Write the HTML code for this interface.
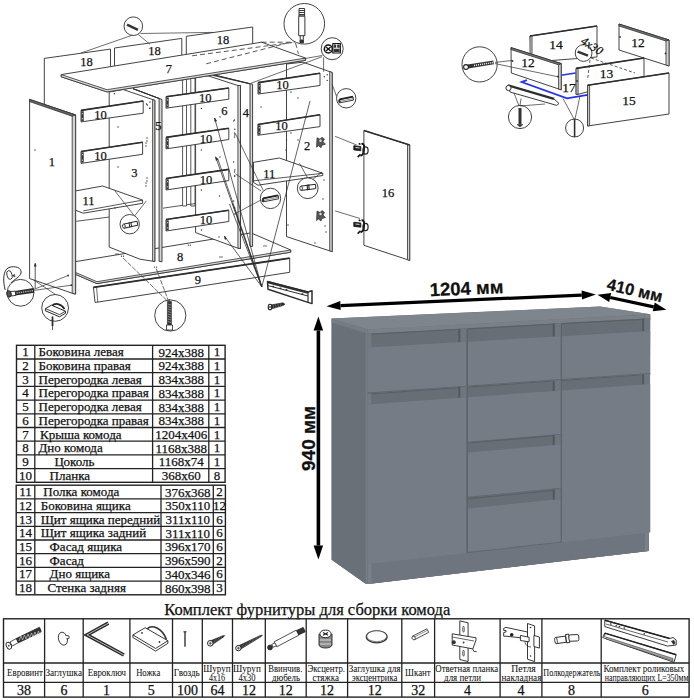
<!DOCTYPE html>
<html><head><meta charset="utf-8"><style>
html,body{margin:0;padding:0;background:#fff;}
svg{display:block;}
text{fill:#111;stroke:#111;stroke-width:0.25px;}
</style></head><body>
<svg width="694" height="700" viewBox="0 0 694 700">
<rect width="694" height="700" fill="#fff"/>
<g id="drawing" fill="none" stroke="#2e2e2e" stroke-width="1" stroke-linejoin="round">
<polygon points="44.3,58.4 110.5,49.1 110.5,80.0 44.3,104.0" fill="#fff" stroke-width="0.9" stroke="none"/>
<polyline points="44.3,104.0 44.3,58.4 110.5,49.1 110.5,80.0" fill="none" stroke-width="0.9" />
<polygon points="114.5,48.0 181.8,38.4 181.8,70.0 114.5,75.0" fill="#fff" stroke-width="0.9" stroke="none"/>
<polyline points="114.5,75.0 114.5,48.0 181.8,38.4 181.8,70.0" fill="none" stroke-width="0.9" />
<polygon points="186.3,36.3 252.7,27.0 252.7,60.0 186.3,70.0" fill="#fff" stroke-width="0.9" stroke="none"/>
<polyline points="186.3,70.0 186.3,36.3 252.7,27.0 252.7,60.0" fill="none" stroke-width="0.9" />
<polygon points="182.6,70.0 186.5,70.0 186.5,206.0 182.6,206.0" fill="#fff" stroke-width="0.8" />
<polygon points="190.8,70.0 195.0,70.0 195.0,206.0 190.8,206.0" fill="#fff" stroke-width="0.8" />
<line x1="163.0" y1="208.2" x2="182.6" y2="205.3" stroke-width="0.8" />
<line x1="186.5" y1="204.8" x2="195.6" y2="203.5" stroke-width="0.8" />
<polygon points="57.2,264.6 251.0,232.9 290.7,250.0 290.7,252.2 96.9,283.6 75.6,274.4" fill="#fff" stroke-width="0.9" />
<polygon points="75.6,272.5 96.9,281.7 290.7,250.0 290.7,252.2 96.9,283.6 75.6,274.4" fill="#dcdcdc" stroke-width="0.8"/>
<polygon points="286.5,64.0 303.0,62.2 332.2,72.5 332.2,251.7 286.5,236.6" fill="#fff" stroke-width="0.9" />
<polygon points="329.7,71.6 332.2,72.5 332.2,251.7 329.7,250.9" fill="#d4d4d4" stroke-width="0.8"/>
<line x1="76.2" y1="221.3" x2="109.4" y2="217.0" stroke-width="0.8" />
<polygon points="109.2,92.0 123.0,89.5 154.8,100.3 154.8,261.5 140.0,259.2 109.2,247.1" fill="#fff" stroke-width="0.9" />
<polygon points="152.6,99.6 154.8,100.3 154.8,261.5 152.6,260.8" fill="#d4d4d4" stroke-width="0.8"/>
<polygon points="133.1,88.7 162.0,99.5 162.0,261.8 159.1,261.3 159.1,98.5" fill="#d4d4d4" stroke-width="0.9" />
<line x1="159.1" y1="98.5" x2="133.1" y2="88.7" stroke-width="0.8" />
<polygon points="195.6,76.0 207.3,75.6 237.9,85.5 240.5,85.5 240.5,248.5 237.9,248.2 195.6,232.6" fill="#fff" stroke-width="0.9" />
<polygon points="237.9,85.5 240.5,85.5 240.5,248.5 237.9,248.2" fill="#d4d4d4" stroke-width="0.8"/>
<polygon points="212.7,74.6 252.6,84.3 252.6,246.5 250.0,246.2 250.0,83.8" fill="#d4d4d4" stroke-width="0.9" />
<line x1="250.0" y1="83.8" x2="213.0" y2="75.5" stroke-width="0.8" />
<polygon points="81.0,110.4 143.2,101.0 143.2,113.2 81.0,121.9" fill="#fff" stroke-width="0.9" />
<line x1="81.0" y1="110.4" x2="143.2" y2="101.0" stroke-width="1.6" />
<rect x="81.3" y="111.2" width="2.4" height="9.9" fill="#333" stroke="none"/>
<circle cx="82.5" cy="113.6" r="0.6" fill="#ddd" stroke="none"/>
<circle cx="82.5" cy="118.7" r="0.6" fill="#ddd" stroke="none"/>
<polygon points="81.0,151.5 142.6,142.2 142.6,154.3 81.0,163.4" fill="#fff" stroke-width="0.9" />
<line x1="81.0" y1="151.5" x2="142.6" y2="142.2" stroke-width="1.6" />
<rect x="81.3" y="152.3" width="2.4" height="10.3" fill="#333" stroke="none"/>
<circle cx="82.5" cy="154.7" r="0.6" fill="#ddd" stroke="none"/>
<circle cx="82.5" cy="160.2" r="0.6" fill="#ddd" stroke="none"/>
<polygon points="166.0,96.7 228.8,88.0 228.8,99.2 166.0,108.2" fill="#fff" stroke-width="0.9" />
<line x1="166.0" y1="96.7" x2="228.8" y2="88.0" stroke-width="1.6" />
<rect x="166.3" y="97.5" width="2.4" height="9.9" fill="#333" stroke="none"/>
<circle cx="167.5" cy="99.9" r="0.6" fill="#ddd" stroke="none"/>
<circle cx="167.5" cy="105.0" r="0.6" fill="#ddd" stroke="none"/>
<polygon points="166.0,137.4 228.8,128.3 228.8,139.5 166.0,148.9" fill="#fff" stroke-width="0.9" />
<line x1="166.0" y1="137.4" x2="228.8" y2="128.3" stroke-width="1.6" />
<rect x="166.3" y="138.2" width="2.4" height="9.9" fill="#333" stroke="none"/>
<circle cx="167.5" cy="140.6" r="0.6" fill="#ddd" stroke="none"/>
<circle cx="167.5" cy="145.7" r="0.6" fill="#ddd" stroke="none"/>
<polygon points="166.0,178.5 228.8,169.4 228.8,180.6 166.0,190.0" fill="#fff" stroke-width="0.9" />
<line x1="166.0" y1="178.5" x2="228.8" y2="169.4" stroke-width="1.6" />
<rect x="166.3" y="179.3" width="2.4" height="9.9" fill="#333" stroke="none"/>
<circle cx="167.5" cy="181.7" r="0.6" fill="#ddd" stroke="none"/>
<circle cx="167.5" cy="186.8" r="0.6" fill="#ddd" stroke="none"/>
<polygon points="166.0,219.5 228.8,210.3 228.8,221.5 166.0,231.0" fill="#fff" stroke-width="0.9" />
<line x1="166.0" y1="219.5" x2="228.8" y2="210.3" stroke-width="1.6" />
<rect x="166.3" y="220.3" width="2.4" height="9.9" fill="#333" stroke="none"/>
<circle cx="167.5" cy="222.7" r="0.6" fill="#ddd" stroke="none"/>
<circle cx="167.5" cy="227.8" r="0.6" fill="#ddd" stroke="none"/>
<polygon points="258.0,82.6 320.0,73.2 320.0,85.5 258.0,94.1" fill="#fff" stroke-width="0.9" />
<line x1="258.0" y1="82.6" x2="320.0" y2="73.2" stroke-width="1.6" />
<rect x="258.3" y="83.4" width="2.4" height="9.9" fill="#333" stroke="none"/>
<circle cx="259.5" cy="85.8" r="0.6" fill="#ddd" stroke="none"/>
<circle cx="259.5" cy="90.9" r="0.6" fill="#ddd" stroke="none"/>
<polygon points="257.8,124.5 320.0,114.7 320.0,126.6 257.8,135.3" fill="#fff" stroke-width="0.9" />
<line x1="257.8" y1="124.5" x2="320.0" y2="114.7" stroke-width="1.6" />
<rect x="258.1" y="125.3" width="2.4" height="9.2" fill="#333" stroke="none"/>
<circle cx="259.3" cy="127.7" r="0.6" fill="#ddd" stroke="none"/>
<circle cx="259.3" cy="132.1" r="0.6" fill="#ddd" stroke="none"/>
<polygon points="43.3,196.8 102.7,186.0 142.6,200.1 142.6,203.3 83.2,213.2 75.0,210.0" fill="#fff" stroke-width="0.9" />
<line x1="142.6" y1="200.1" x2="83.2" y2="210.9" stroke-width="0.8" />
<polygon points="253.5,162.3 279.4,158.0 322.8,173.3 322.8,175.5 258.0,185.2 253.5,182.5" fill="#fff" stroke-width="0.9" />
<line x1="322.8" y1="173.3" x2="253.5" y2="180.8" stroke-width="0.8" />
<polygon points="61.2,74.6 261.6,42.2 305.6,58.1 305.6,60.3 107.0,91.9 61.2,76.8" fill="#fff" stroke-width="0.9" />
<polygon points="61.2,74.6 107.0,89.7 305.6,58.1 305.6,60.3 107.0,91.9 61.2,76.8" fill="#dcdcdc" stroke-width="0.8"/>
<g stroke-dasharray="5,3" stroke-width="0.8">
<line x1="192.1" y1="55.8" x2="294.8" y2="42.2" stroke-width="0.8" />
<line x1="206.2" y1="63.8" x2="287.6" y2="43.0" stroke-width="0.8" />
<line x1="261.6" y1="42.2" x2="294.8" y2="42.2" stroke-width="0.8" />
<line x1="295.5" y1="43.0" x2="298.4" y2="53.8" stroke-width="0.8" />
</g>
<polygon points="29.6,99.4 74.6,114.6 75.6,115.0 75.6,294.0 74.6,294.0 29.6,278.6" fill="#fff" stroke-width="0.9" />
<polygon points="72.2,113.8 75.6,115.0 75.6,294.0 72.2,293.3" fill="#d4d4d4" stroke-width="0.8"/>
<polygon points="29.6,99.4 74.6,114.6 75.6,115.0 72.2,116.2 29.6,101.6" fill="#666" stroke-width="0.8"/>
<polygon points="93.4,287.4 289.7,258.2 289.7,272.3 95.1,302.5" fill="#fff" stroke-width="0.9" />
<line x1="93.4" y1="287.4" x2="289.7" y2="258.2" stroke-width="1.8" />
<line x1="96.6" y1="287.6" x2="97.8" y2="302.1" stroke-width="0.7" />
<polygon points="363.9,130.5 409.7,145.0 409.7,260.4 363.9,245.3" fill="#fff" stroke-width="0.9" />
<polygon points="407.5,144.3 409.7,145.0 409.7,260.4 407.5,259.7" fill="#d4d4d4" stroke-width="0.8"/>
<line x1="363.9" y1="130.5" x2="409.7" y2="145.0" stroke-width="1.5" />
<path d="M317,137.7 l3,1.5 l2,-2 l2.5,2 l-1.5,2.5 l2.5,2.5 l-3.5,1 l-1,2.5 l-2.5,-2 l-2,1.5 z" fill="#555" stroke="#222" stroke-width="0.6"/>
<circle cx="320.5" cy="140.7" r="1.2" fill="#ddd" stroke="none"/>
<path d="M317,211.0 l3,1.5 l2,-2 l2.5,2 l-1.5,2.5 l2.5,2.5 l-3.5,1 l-1,2.5 l-2.5,-2 l-2,1.5 z" fill="#555" stroke="#222" stroke-width="0.6"/>
<circle cx="320.5" cy="214.0" r="1.2" fill="#ddd" stroke="none"/>
<path d="M353.8,145.70000000000002 l7,0.8 l0,4.2 l-7,-0.8 z" fill="#222" stroke="#111" stroke-width="0.8"/>
<path d="M355.5,147.5 l4,0.4" stroke="#eee" stroke-width="0.9"/>
<path d="M361.5,143.8 C364,143.3 364.5,146.3 364,149.3 C364,153.3 362.5,155.3 360.5,155.8" fill="none" stroke="#111" stroke-width="1.8"/>
<ellipse cx="365.5" cy="150.5" rx="2.6" ry="3.6" fill="none" stroke="#222" stroke-width="1.2"/>
<path d="M360.5,154.3 l-2.8,2.8" stroke="#111" stroke-width="1.6"/>
<path d="M360.5,144.3 l-1.8,-0.8" stroke="#111" stroke-width="1.4"/>
<path d="M353.8,222.20000000000002 l7,0.8 l0,4.2 l-7,-0.8 z" fill="#222" stroke="#111" stroke-width="0.8"/>
<path d="M355.5,224.0 l4,0.4" stroke="#eee" stroke-width="0.9"/>
<path d="M361.5,220.3 C364,219.8 364.5,222.8 364,225.8 C364,229.8 362.5,231.8 360.5,232.3" fill="none" stroke="#111" stroke-width="1.8"/>
<ellipse cx="365.5" cy="227.0" rx="2.6" ry="3.6" fill="none" stroke="#222" stroke-width="1.2"/>
<path d="M360.5,230.8 l-2.8,2.8" stroke="#111" stroke-width="1.6"/>
<path d="M360.5,220.8 l-1.8,-0.8" stroke="#111" stroke-width="1.4"/>
<line x1="335.1" y1="136.3" x2="356.7" y2="145.0" stroke-width="0.7" />
<line x1="335.1" y1="210.9" x2="360.0" y2="218.5" stroke-width="0.7" />
<polygon points="267.5,281.5 308.0,292.0 312.0,290.8 312.0,303.6 308.0,302.4 268.0,289.3" fill="#fff" stroke-width="1.5" />
<line x1="267.5" y1="282.2" x2="308.0" y2="292.7" stroke-width="2.4" />
<line x1="268.0" y1="285.6" x2="308.0" y2="296.0" stroke-width="1.0" />
<line x1="308.0" y1="292.0" x2="308.0" y2="302.4" stroke-width="1.2" />
<rect x="272.3" y="285.8" width="1.8" height="1.3" fill="#222" stroke="none"/>
<rect x="279.5" y="287.6" width="1.8" height="1.3" fill="#222" stroke="none"/>
<rect x="285.5" y="289.2" width="1.8" height="1.3" fill="#222" stroke="none"/>
<rect x="301.5" y="293.4" width="1.8" height="1.3" fill="#222" stroke="none"/>
<polygon points="270.5,305 283,302.8 285,304.2 283,305.6 271,309" fill="#2a2a2a" stroke="#2a2a2a" stroke-width="0.6"/>
<path d="M273,305 l0.6,3 M275.5,304.5 l0.6,3 M278,304 l0.6,2.8 M280.5,303.6 l0.5,2.4" stroke="#999" stroke-width="0.5"/>
<ellipse cx="270" cy="307" rx="1.8" ry="2.8" fill="#fff" stroke="#222" stroke-width="1.1"/>
<path d="M269,306 l2,2 M271,306 l-2,2" stroke="#222" stroke-width="0.6"/>
<line x1="235.1" y1="133.1" x2="263.2" y2="190.4" stroke-width="0.7" />
<line x1="214.6" y1="118.0" x2="261.8" y2="286.9" stroke-width="0.75" />
<line x1="215.6" y1="156.9" x2="261.8" y2="286.9" stroke-width="0.75" />
<line x1="217.5" y1="158.0" x2="261.8" y2="286.9" stroke-width="0.75" />
<line x1="224.4" y1="236.0" x2="261.8" y2="286.9" stroke-width="0.75" />
<line x1="310.0" y1="101.0" x2="261.8" y2="286.9" stroke-width="0.75" />
<line x1="229.5" y1="204.0" x2="261.8" y2="286.9" stroke-width="0.75" />
<line x1="232.5" y1="203.5" x2="261.8" y2="286.9" stroke-width="0.75" />
<path d="M224.4,236 l0.6,3.4 l1.6,-0.9 z" fill="#222" stroke-width="0.6"/>
<path d="M214.6,118 l0.3,3.5 l1.8,-0.6 z" fill="#222" stroke-width="0.6"/>
<path d="M215.6,156.9 l0.5,3.5 l1.7,-0.8 z" fill="#222" stroke-width="0.6"/>
<line x1="123.2" y1="258.2" x2="167.5" y2="301.0" stroke-width="0.7" stroke-dasharray="5,1.2"/>
<line x1="156.2" y1="268.5" x2="168.5" y2="301.0" stroke-width="0.7" stroke-dasharray="5,1.2"/>
<circle cx="121.5" cy="256.2" r="0.65" fill="#333" stroke="none"/>
<circle cx="123.5" cy="256.2" r="0.65" fill="#333" stroke="none"/>
<circle cx="154.6" cy="267.1" r="0.65" fill="#333" stroke="none"/>
<circle cx="156.6" cy="267.1" r="0.65" fill="#333" stroke="none"/>
<circle cx="188.3" cy="245.2" r="0.65" fill="#333" stroke="none"/>
<circle cx="190.3" cy="245.2" r="0.65" fill="#333" stroke="none"/>
<circle cx="220" cy="257" r="0.65" fill="#333" stroke="none"/>
<circle cx="222" cy="257" r="0.65" fill="#333" stroke="none"/>
<circle cx="264" cy="246" r="0.65" fill="#333" stroke="none"/>
<circle cx="266" cy="246" r="0.65" fill="#333" stroke="none"/>
<circle cx="116" cy="254" r="0.65" fill="#333" stroke="none"/>
<circle cx="118" cy="254" r="0.65" fill="#333" stroke="none"/>
<line x1="68.1" y1="275.5" x2="32.4" y2="290.0" stroke-width="0.7" />
<line x1="71.3" y1="285.2" x2="32.4" y2="290.6" stroke-width="0.7" />
<line x1="33.5" y1="279.8" x2="62.7" y2="299.3" stroke-width="0.7" />
<line x1="35.2" y1="263.6" x2="35.2" y2="288.5" stroke-width="0.8" />
<path d="M35.2,263.2 l-1,3 l2,0 z" fill="#222" stroke-width="0.5"/>
<circle cx="68.1" cy="275.5" r="0.9" fill="#333" stroke="none"/>
<circle cx="71.3" cy="285.2" r="0.9" fill="#333" stroke="none"/>
<line x1="134.0" y1="34.6" x2="81.0" y2="53.0" stroke-width="0.7" />
<line x1="138.3" y1="34.6" x2="150.0" y2="44.3" stroke-width="0.7" />
<line x1="140.5" y1="33.5" x2="212.7" y2="32.4" stroke-width="0.7" />
<line x1="322.1" y1="56.7" x2="250.8" y2="83.3" stroke-width="0.7" />
<line x1="322.4" y1="55.5" x2="303.4" y2="58.8" stroke-width="0.7" />
<line x1="323.6" y1="57.4" x2="323.6" y2="71.8" stroke-width="0.7" />
<line x1="336.5" y1="96.2" x2="332.1" y2="84.3" stroke-width="0.7" />
<line x1="114.7" y1="190.6" x2="134.5" y2="216.0" stroke-width="0.7" />
<line x1="146.4" y1="200.9" x2="134.5" y2="216.0" stroke-width="0.7" />
<line x1="261.3" y1="191.1" x2="235.3" y2="173.8" stroke-width="0.7" />
<line x1="261.3" y1="199.8" x2="235.3" y2="213.6" stroke-width="0.7" />
<line x1="299.5" y1="163.4" x2="307.7" y2="178.0" stroke-width="0.7" />
<line x1="322.0" y1="172.0" x2="312.0" y2="180.0" stroke-width="0.7" />
<circle cx="114.4" cy="93.8" r="0.7" fill="#333" stroke="none"/>
<circle cx="146.5" cy="104" r="0.7" fill="#333" stroke="none"/>
<circle cx="150" cy="102" r="0.7" fill="#333" stroke="none"/>
<circle cx="150" cy="108" r="0.7" fill="#333" stroke="none"/>
<circle cx="147" cy="138" r="0.7" fill="#333" stroke="none"/>
<circle cx="147" cy="141" r="0.7" fill="#333" stroke="none"/>
<circle cx="147" cy="178" r="0.7" fill="#333" stroke="none"/>
<circle cx="147" cy="181" r="0.7" fill="#333" stroke="none"/>
<circle cx="118" cy="127" r="0.7" fill="#333" stroke="none"/>
<circle cx="118" cy="167" r="0.7" fill="#333" stroke="none"/>
<circle cx="234.5" cy="120" r="0.7" fill="#333" stroke="none"/>
<circle cx="234.5" cy="133" r="0.7" fill="#333" stroke="none"/>
<circle cx="234.5" cy="137" r="0.7" fill="#333" stroke="none"/>
<circle cx="234.5" cy="172" r="0.7" fill="#333" stroke="none"/>
<circle cx="234.5" cy="176" r="0.7" fill="#333" stroke="none"/>
<circle cx="220" cy="117" r="0.7" fill="#333" stroke="none"/>
<circle cx="220" cy="157" r="0.7" fill="#333" stroke="none"/>
<circle cx="219.5" cy="196" r="0.7" fill="#333" stroke="none"/>
<circle cx="219" cy="237" r="0.7" fill="#333" stroke="none"/>
<circle cx="324.3" cy="76.8" r="0.7" fill="#333" stroke="none"/>
<circle cx="327.2" cy="74.7" r="0.7" fill="#333" stroke="none"/>
<circle cx="327.2" cy="80.4" r="0.7" fill="#333" stroke="none"/>
<circle cx="298" cy="98" r="0.7" fill="#333" stroke="none"/>
<circle cx="298" cy="140" r="0.7" fill="#333" stroke="none"/>
<circle cx="324" cy="180" r="0.7" fill="#333" stroke="none"/>
<circle cx="323" cy="199" r="0.7" fill="#333" stroke="none"/>
<circle cx="35" cy="150" r="0.7" fill="#333" stroke="none"/>
<circle cx="261" cy="107" r="0.7" fill="#333" stroke="none"/>
<circle cx="286" cy="150" r="0.7" fill="#333" stroke="none"/>
<circle cx="147.3" cy="105" r="0.7" fill="#333" stroke="none"/>
<circle cx="149.6" cy="108.4" r="0.7" fill="#333" stroke="none"/>
<circle cx="201.4" cy="108.4" r="0.7" fill="#333" stroke="none"/>
<circle cx="201.4" cy="149.9" r="0.7" fill="#333" stroke="none"/>
<circle cx="201.4" cy="190" r="0.7" fill="#333" stroke="none"/>
<circle cx="201.4" cy="230" r="0.7" fill="#333" stroke="none"/>
<circle cx="233.7" cy="121" r="0.7" fill="#333" stroke="none"/>
<circle cx="234.8" cy="129.2" r="0.7" fill="#333" stroke="none"/>
<circle cx="234.8" cy="135" r="0.7" fill="#333" stroke="none"/>
<circle cx="233.7" cy="162" r="0.7" fill="#333" stroke="none"/>
<circle cx="234.8" cy="170" r="0.7" fill="#333" stroke="none"/>
<circle cx="234.8" cy="176" r="0.7" fill="#333" stroke="none"/>
<circle cx="233.7" cy="201" r="0.7" fill="#333" stroke="none"/>
<circle cx="234.8" cy="208" r="0.7" fill="#333" stroke="none"/>
<circle cx="234.8" cy="214" r="0.7" fill="#333" stroke="none"/>
<circle cx="115" cy="208" r="0.7" fill="#333" stroke="none"/>
<circle cx="146" cy="143" r="0.7" fill="#333" stroke="none"/>
<circle cx="146" cy="146" r="0.7" fill="#333" stroke="none"/>
<circle cx="146" cy="183" r="0.7" fill="#333" stroke="none"/>
<circle cx="146" cy="186" r="0.7" fill="#333" stroke="none"/>
<circle cx="286.5" cy="140" r="0.7" fill="#333" stroke="none"/>
<circle cx="325" cy="226" r="0.7" fill="#333" stroke="none"/>
<circle cx="326" cy="232" r="0.7" fill="#333" stroke="none"/>
<circle cx="307" cy="198" r="0.7" fill="#333" stroke="none"/>
<circle cx="291" cy="92" r="0.7" fill="#333" stroke="none"/>
<circle cx="291" cy="133" r="0.7" fill="#333" stroke="none"/>
<circle cx="315" cy="243" r="0.7" fill="#333" stroke="none"/>
<circle cx="288" cy="225" r="0.7" fill="#333" stroke="none"/>
<circle cx="133.3" cy="26.2" r="9.3" fill="#fff" stroke-width="0.9"/>
<path d="M127,24.6 L138,29.8" stroke-width="2.4" stroke="#333"/>
<circle cx="304.3" cy="23.8" r="20.3" fill="#fff" stroke-width="0.9"/>
<path d="M299,8.5 h5.6 v7.5 h-5.6 z" fill="#fff" stroke="#222" stroke-width="0.9"/>
<path d="M299,10.5 h5.6 M299,12.5 h5.6 M299,14.5 h5.6" stroke="#222" stroke-width="0.9"/>
<rect x="298.7" y="16.2" width="6.2" height="19.5" fill="#fff" stroke="#222" stroke-width="0.9"/>
<path d="M300.2,35.7 v4 M303.3,35.7 v4" stroke="#222" stroke-width="0.9"/>
<rect x="299.5" y="39.6" width="4.5" height="3.6" rx="1" fill="#333" stroke="none"/>
<circle cx="332.2" cy="48.7" r="11.0" fill="#fff" stroke-width="0.9"/>
<circle cx="328.3" cy="49" r="4" fill="#fff" stroke="#111" stroke-width="1.5"/>
<path d="M326,47 l4.6,4 M330.6,47 l-4.6,4" stroke-width="1.3" stroke="#111"/>
<path d="M332.8,43.5 h7.5 v9.5 h-7.5 z" stroke-width="1.2" fill="#fff" stroke="#111"/>
<path d="M333.8,44.5 h2.4 v3.2 h-2.4z M337.2,44.5 h2.4 v3.2 h-2.4z M333.8,48.8 h5.8 v3.2 h-5.8z" fill="#333" stroke="none"/>
<circle cx="346.2" cy="98.3" r="9.7" fill="#fff" stroke-width="0.9"/>
<path d="M339,99.6 L353,96.8 L353.5,100.1 L339.5,102.9 Z" fill="#fff" stroke="#222" stroke-width="0.9"/>
<path d="M339.5,99.4 L353,96.7" stroke-width="1.8" stroke="#222"/>
<path d="M340.5,101.2 L353.2,98.6" stroke-width="0.6" stroke="#444"/>
<ellipse cx="339.5" cy="101.2" rx="1.2" ry="1.8" fill="#333" stroke="none"/>
<circle cx="129.7" cy="224.2" r="9.7" fill="#fff" stroke-width="0.9"/>
<path d="M123.5,224.2 L137,221.2 L137.8,225.2 L124.3,228.2 Z" fill="#fff" stroke="#222" stroke-width="1"/>
<path d="M129,222.5 L129.9,227.5 M130.8,222.1 L131.7,227.1" stroke="#222" stroke-width="1"/>
<ellipse cx="123.9" cy="226.2" rx="1.3" ry="2.1" transform="rotate(-12 123.9 226.2)" fill="#fff" stroke="#222" stroke-width="0.9"/>
<circle cx="270.5" cy="198.4" r="10.2" fill="#fff" stroke-width="0.9"/>
<path d="M262.5,198.6 L278.2,195.4 L278.7,198.8 L263,201.9 Z" fill="#fff" stroke="#222" stroke-width="0.9"/>
<path d="M263,198.4 L278,195.3" stroke-width="1.8" stroke="#222"/>
<path d="M264,200.3 L278.2,197.3" stroke-width="0.6" stroke="#444"/>
<ellipse cx="263" cy="200.2" rx="1.2" ry="1.9" fill="#333" stroke="none"/>
<circle cx="307.7" cy="188.2" r="10.4" fill="#fff" stroke-width="0.9"/>
<path d="M301,186.1 L315.5,184.3 L315.8,188.6 L301.3,190.4 Z" fill="#fff" stroke="#222" stroke-width="1"/>
<path d="M307.2,184.6 L307.5,190.2 M308.8,184.4 L309.1,190" stroke="#222" stroke-width="1.1"/>
<ellipse cx="301.1" cy="188.2" rx="1.3" ry="2.2" fill="#fff" stroke="#222" stroke-width="0.9"/>
<path d="M5.2,290 C3,282 2.5,270 9,267.5 C15,265.5 22,267.5 21,273 C20,277 14,279.5 11,283" fill="none" stroke-width="1"/>
<ellipse cx="9.5" cy="275" rx="2.6" ry="4.5" transform="rotate(-15 9.5 275)" fill="none" stroke-width="0.9"/>
<path d="M12.5,275.5 l2,-1 l0.5,2.5 z" fill="#444" stroke-width="0.6"/>
<circle cx="20.5" cy="292.8" r="13.4" fill="#fff" stroke-width="0.9"/>
<path d="M15,293.2 L34,290.4" stroke-width="4.6" stroke="#2a2a2a"/>
<path d="M16.5,293 L33,290.6" stroke-width="1.4" stroke="#bbb" stroke-dasharray="1.2,1"/>
<path d="M10.5,291.6 L15.2,291 L15.8,295.4 L11.1,296 Z" fill="#fff" stroke="#222" stroke-width="0.9"/>
<ellipse cx="9" cy="293.9" rx="2.2" ry="3.3" transform="rotate(-8 9 293.9)" fill="#555" stroke="#222" stroke-width="0.9"/>
<circle cx="55.1" cy="307.9" r="13.4" fill="#fff" stroke-width="0.9"/>
<path d="M52,305.8 C55,302.5 61,303.5 64.5,309" fill="none" stroke="#222" stroke-width="1.6"/>
<path d="M45.4,308.6 L51.5,305.2 L65.5,311.2 L65.5,313.2 L59.5,316.8 L45.4,310.8 Z" fill="#fff" stroke="#222" stroke-width="1"/>
<line x1="45.4" y1="308.6" x2="59.5" y2="314.6" stroke-width="0.9" />
<line x1="59.5" y1="314.6" x2="65.5" y2="311.2" stroke-width="0.9" />
<line x1="52.5" y1="316.6" x2="52.5" y2="330.0" stroke-width="0.8" />
<line x1="52.5" y1="316.6" x2="52.5" y2="326.0" stroke-width="1.8" />
<circle cx="170.3" cy="315.5" r="15.6" fill="#fff" stroke-width="0.9"/>
<rect x="167.4" y="301.5" width="4" height="26" fill="#333" stroke="#222" stroke-width="0.6"/>
<path d="M167.8,304 l3.2,1 M167.8,306.5 l3.2,1 M167.8,309 l3.2,1 M167.8,311.5 l3.2,1 M167.8,314 l3.2,1 M167.8,316.5 l3.2,1 M167.8,319 l3.2,1 M167.8,321.5 l3.2,1" stroke="#ccc" stroke-width="0.6"/>
<path d="M166.5,325 h6 v5 h-6 z" fill="#fff" stroke="#222" stroke-width="0.8"/>
<line x1="169.2" y1="301.4" x2="169.2" y2="299.0" stroke-width="1" />
<text x="86.4" y="65.8" font-family="Liberation Serif" font-size="12.5" text-anchor="middle" stroke="none" fill="#1a1a1a">18</text>
<text x="154.6" y="54.7" font-family="Liberation Serif" font-size="12.5" text-anchor="middle" stroke="none" fill="#1a1a1a">18</text>
<text x="223.0" y="43.8" font-family="Liberation Serif" font-size="12.5" text-anchor="middle" stroke="none" fill="#1a1a1a">18</text>
<text x="168.8" y="73.4" font-family="Liberation Serif" font-size="12.5" text-anchor="middle" stroke="none" fill="#1a1a1a">7</text>
<text x="100.5" y="118.8" font-family="Liberation Serif" font-size="12.5" text-anchor="middle" stroke="none" fill="#1a1a1a">10</text>
<text x="100.5" y="159.8" font-family="Liberation Serif" font-size="12.5" text-anchor="middle" stroke="none" fill="#1a1a1a">10</text>
<text x="205.3" y="101.9" font-family="Liberation Serif" font-size="12.5" text-anchor="middle" stroke="none" fill="#1a1a1a">10</text>
<text x="205.9" y="142.7" font-family="Liberation Serif" font-size="12.5" text-anchor="middle" stroke="none" fill="#1a1a1a">10</text>
<text x="205.9" y="183.8" font-family="Liberation Serif" font-size="12.5" text-anchor="middle" stroke="none" fill="#1a1a1a">10</text>
<text x="205.9" y="224.0" font-family="Liberation Serif" font-size="12.5" text-anchor="middle" stroke="none" fill="#1a1a1a">10</text>
<text x="282.5" y="89.0" font-family="Liberation Serif" font-size="12.5" text-anchor="middle" stroke="none" fill="#1a1a1a">10</text>
<text x="281.6" y="129.7" font-family="Liberation Serif" font-size="12.5" text-anchor="middle" stroke="none" fill="#1a1a1a">10</text>
<text x="51.9" y="165.7" font-family="Liberation Serif" font-size="12.5" text-anchor="middle" stroke="none" fill="#1a1a1a">1</text>
<text x="134.4" y="176.6" font-family="Liberation Serif" font-size="12.5" text-anchor="middle" stroke="none" fill="#1a1a1a">3</text>
<text x="158.4" y="129.7" font-family="Liberation Serif" font-size="12.5" text-anchor="middle" stroke="none" fill="#1a1a1a">5</text>
<text x="224.3" y="114.6" font-family="Liberation Serif" font-size="12.5" text-anchor="middle" stroke="none" fill="#1a1a1a">6</text>
<text x="245.9" y="117.4" font-family="Liberation Serif" font-size="12.5" text-anchor="middle" stroke="none" fill="#1a1a1a">4</text>
<text x="307.0" y="149.8" font-family="Liberation Serif" font-size="12.5" text-anchor="middle" stroke="none" fill="#1a1a1a">2</text>
<text x="388.0" y="196.7" font-family="Liberation Serif" font-size="12.5" text-anchor="middle" stroke="none" fill="#1a1a1a">16</text>
<text x="88.6" y="205.4" font-family="Liberation Serif" font-size="12.5" text-anchor="middle" stroke="none" fill="#1a1a1a">11</text>
<text x="269.2" y="177.9" font-family="Liberation Serif" font-size="12.5" text-anchor="middle" stroke="none" fill="#1a1a1a">11</text>
<text x="180.0" y="261.3" font-family="Liberation Serif" font-size="12.5" text-anchor="middle" stroke="none" fill="#1a1a1a">8</text>
<text x="197.9" y="283.6" font-family="Liberation Serif" font-size="12.5" text-anchor="middle" stroke="none" fill="#1a1a1a">9</text>
<polygon points="530.0,36.0 597.0,26.0 597.0,57.0 532.0,62.0" fill="#fff" stroke-width="0.9" />
<polygon points="530.0,36.0 532.0,35.7 532.0,62.0 530.0,62.0" fill="#d4d4d4" stroke-width="0.8"/>
<line x1="530.0" y1="36.0" x2="597.0" y2="26.0" stroke-width="1.4" />
<polygon points="619.0,24.0 669.0,40.0 669.0,66.0 619.0,50.0" fill="#fff" stroke-width="0.9" />
<polygon points="666.0,39.0 669.0,40.0 669.0,66.0 666.0,65.0" fill="#d4d4d4" stroke-width="0.8"/>
<polygon points="619.0,24.0 666.0,39.0 669.0,40.0 666.0,41.0 619.0,26.0" fill="#777" stroke-width="0.8"/>
<circle cx="620" cy="37" r="0.9" fill="#333" stroke="none"/>
<circle cx="665.5" cy="53.5" r="0.9" fill="#333" stroke="none"/>
<path d="M561.2,75.3 L575.5,73" stroke="#2630f0" stroke-width="1.6" fill="none"/>
<polygon points="511.0,47.6 561.2,63.6 561.2,89.8 511.3,73.0" fill="#fff" stroke-width="0.9" />
<polygon points="558.6,62.8 561.2,63.6 561.2,89.8 558.6,89.2" fill="#d4d4d4" stroke-width="0.8"/>
<polygon points="511.0,47.6 558.6,62.8 561.2,63.6 558.6,64.8 511.0,49.6" fill="#777" stroke-width="0.8"/>
<circle cx="512.5" cy="61" r="0.9" fill="#333" stroke="none"/>
<circle cx="558" cy="76.5" r="0.9" fill="#333" stroke="none"/>
<polygon points="576.1,68.4 644.0,58.0 644.0,76.5 578.0,94.4 576.1,94.4" fill="#fff" stroke-width="0.9" />
<polygon points="576.1,68.4 578.1,68.1 578.1,94.4 576.1,94.4" fill="#d4d4d4" stroke-width="0.8"/>
<line x1="576.1" y1="68.4" x2="644.0" y2="58.0" stroke-width="1.6" />
<circle cx="577" cy="81" r="0.9" fill="#333" stroke="none"/>
<path d="M526.9,80.1 L521.7,82 L567,98.3 L587.8,94.8" stroke="#2630f0" stroke-width="1.8" fill="none" stroke-linejoin="miter"/>
<polygon points="587.6,85.3 669.0,73.0 669.0,114.0 587.6,126.0" fill="#fff" stroke-width="0.9" />
<polygon points="587.6,85.3 589.6,85.0 589.6,125.7 587.6,126.0" fill="#d4d4d4" stroke-width="0.8"/>
<line x1="587.6" y1="85.3" x2="669.0" y2="73.0" stroke-width="1.6" />
<path d="M508,85.3 L554,98.9 L559,103.5 L556.7,105.4 L510,92 Z" fill="#fff" stroke="#222" stroke-width="0.9"/>
<line x1="508.0" y1="85.3" x2="554.0" y2="98.9" stroke-width="2.2" />
<circle cx="508.5" cy="88" r="2.6" fill="#fff" stroke-width="1"/>
<circle cx="479.6" cy="64.4" r="17.6" fill="#fff" stroke-width="0.9"/>
<path d="M468,66.5 L493.6,62.4" stroke-width="4" stroke="#333"/>
<path d="M474,65.5 L493,62.5" stroke-width="1.4" stroke="#fff" stroke-dasharray="1,1"/>
<circle cx="466" cy="67" r="2.4" fill="#fff" stroke="#222" stroke-width="1.1"/>
<line x1="495.0" y1="62.4" x2="512.0" y2="60.5" stroke-width="0.7" />
<line x1="495.0" y1="63.6" x2="559.0" y2="77.0" stroke-width="0.7" />
<circle cx="520" cy="117" r="11.6" fill="#fff" stroke-width="0.9"/>
<path d="M520,108 L520,124" stroke-width="3" stroke="#333"/>
<path d="M517,124.5 h6 l-3,2.5 z" fill="#333" stroke="#333" stroke-width="0.6"/>
<line x1="514.0" y1="93.0" x2="519.0" y2="106.0" stroke-width="0.7" />
<line x1="520.0" y1="106.0" x2="545.0" y2="104.0" stroke-width="0.7" />
<line x1="521.0" y1="98.5" x2="520.0" y2="105.5" stroke-width="0.7" />
<circle cx="574.6" cy="128" r="9" fill="#fff" stroke-width="0.9"/>
<line x1="574.6" y1="119.0" x2="574.6" y2="137.0" stroke-width="1.6" />
<line x1="563.0" y1="98.5" x2="574.0" y2="119.0" stroke-width="0.7" />
<line x1="580.0" y1="96.0" x2="575.0" y2="119.0" stroke-width="0.7" />
<g stroke-dasharray="3,2">
<line x1="591.0" y1="58.0" x2="635.0" y2="73.0" stroke-width="0.8" />
<line x1="590.0" y1="60.0" x2="587.5" y2="80.0" stroke-width="0.8" />
</g>
<circle cx="583.6" cy="53" r="8.4" fill="#fff" stroke-width="0.9"/>
<path d="M577.6,51.6 L588,55.6" stroke-width="2.6" stroke="#333"/>
<text x="0" y="0" font-family="Liberation Serif" font-style="italic" font-size="12" stroke="none" fill="#1a1a1a" transform="translate(580,43) rotate(32)">4x30</text>
<text x="528.0" y="67.2" font-family="Liberation Serif" font-size="13.5" text-anchor="middle" stroke="none" fill="#1a1a1a">12</text>
<text x="556.0" y="49.2" font-family="Liberation Serif" font-size="13.5" text-anchor="middle" stroke="none" fill="#1a1a1a">14</text>
<text x="638.0" y="47.2" font-family="Liberation Serif" font-size="13.5" text-anchor="middle" stroke="none" fill="#1a1a1a">12</text>
<text x="606.4" y="77.8" font-family="Liberation Serif" font-size="13.5" text-anchor="middle" stroke="none" fill="#1a1a1a">13</text>
<text x="629.0" y="105.2" font-family="Liberation Serif" font-size="13.5" text-anchor="middle" stroke="none" fill="#1a1a1a">15</text>
<text x="569.0" y="92.2" font-family="Liberation Serif" font-size="13.5" text-anchor="middle" stroke="none" fill="#1a1a1a">17</text>
</g>
<g id="dresser">
<polygon points="331.6,318.6 600.0,306.6 650.3,314.3 650.3,318.8 648.6,550.9 367.8,584.0 365.2,583.4 331.6,559.8" fill="#6e747c" />
<polygon points="331.6,318.6 367.8,329.6 367.8,584.0 365.2,583.4 331.6,559.8" fill="#6a7078" />
<polygon points="365.6,330.0 367.8,330.5 367.8,584.0 365.6,583.4" fill="#767c85" />
<polygon points="331.7,318.6 600.0,306.6 650.3,314.3 367.8,329.6" fill="#7f858d" />
<polygon points="331.7,318.6 367.8,329.6 367.8,333.8 331.7,322.4" fill="#767c84" />
<polygon points="367.8,333.8 648.6,318.4 648.6,550.9 367.8,584.0" fill="#686e76" />
<polygon points="367.8,329.6 650.3,314.4 650.3,318.3 367.8,333.8" fill="#7a8088" />
<polygon points="367.8,564.3 648.6,532.6 648.6,550.9 367.8,584.0" fill="#6f757e" />
<polygon points="367.8,564.3 371.5,563.9 371.5,583.6 367.8,584.0" fill="#7a808a" />
<polygon points="645.0,533.0 648.6,532.6 648.6,550.9 645.0,551.3" fill="#7a808a" />
<polygon points="367.8,333.8 466.5,328.4 466.5,329.5 367.8,335.0" fill="#5a6068" />
<polygon points="458.5,328.8 460.5,328.7 460.5,342.1 458.5,342.2" fill="#50565e" />
<polygon points="460.5,328.7 468.0,328.3 468.0,341.7 460.5,342.1" fill="#70767e" />
<polygon points="367.8,393.5 466.5,386.6 466.5,387.8 367.8,394.7" fill="#5a6068" />
<polygon points="458.5,387.2 460.5,387.0 460.5,397.8 458.5,397.9" fill="#50565e" />
<polygon points="460.5,387.0 468.0,386.5 468.0,397.2 460.5,397.8" fill="#70767e" />
<polygon points="468.0,328.3 560.8,323.2 560.8,324.3 468.0,329.5" fill="#5a6068" />
<polygon points="552.8,323.6 554.8,323.5 554.8,336.6 552.8,336.7" fill="#50565e" />
<polygon points="554.8,323.5 562.3,323.1 562.3,336.1 554.8,336.6" fill="#70767e" />
<polygon points="468.0,386.5 560.8,380.0 560.8,381.1 468.0,387.7" fill="#5a6068" />
<polygon points="552.8,380.6 554.8,380.4 554.8,390.9 552.8,391.0" fill="#50565e" />
<polygon points="554.8,380.4 562.3,379.9 562.3,390.3 554.8,390.9" fill="#70767e" />
<polygon points="562.0,323.1 650.3,318.3 650.3,319.4 562.0,324.3" fill="#5a6068" />
<polygon points="642.3,318.7 644.3,318.6 644.3,331.3 642.3,331.5" fill="#50565e" />
<polygon points="644.3,318.6 650.1,318.3 650.1,331.0 644.3,331.3" fill="#70767e" />
<polygon points="562.0,379.9 650.3,373.7 650.3,374.8 562.0,381.0" fill="#5a6068" />
<polygon points="642.3,374.3 644.3,374.1 644.3,384.4 642.3,384.5" fill="#50565e" />
<polygon points="644.3,374.1 650.1,373.7 650.1,384.0 644.3,384.4" fill="#70767e" />
<polygon points="367.8,333.8 371.2,333.6 371.2,347.3 367.8,347.5" fill="#747a83" />
<polygon points="367.8,393.5 371.2,393.3 371.2,404.3 367.8,404.5" fill="#747a83" />
<polygon points="367.8,347.5 466.5,341.7 466.5,386.6 367.8,393.5" fill="#767c85" />
<polygon points="367.8,392.6 466.5,385.7 466.5,386.6 367.8,393.5" fill="#5f656d" />
<polygon points="468.0,341.7 560.8,336.2 560.8,380.0 468.0,386.5" fill="#767c85" />
<polygon points="468.0,385.6 560.8,379.1 560.8,380.0 468.0,386.5" fill="#5f656d" />
<polygon points="562.0,336.2 650.3,331.0 650.3,373.7 562.0,379.9" fill="#767c85" />
<polygon points="562.0,379.1 650.3,372.9 650.3,373.7 562.0,379.9" fill="#5f656d" />
<polygon points="367.8,404.5 466.5,397.3 466.5,553.2 367.8,564.3" fill="#767c85" />
<polygon points="562.0,390.4 650.3,383.9 650.3,532.4 562.0,542.4" fill="#767c85" />
<polygon points="468.0,397.2 560.8,390.5 560.8,434.8 468.0,442.6" fill="#767c85" />
<polygon points="468.0,441.8 560.8,433.9 560.8,434.8 468.0,442.6" fill="#5f656d" />
<polygon points="468.0,452.6 560.8,444.5 560.8,488.6 468.0,497.7" fill="#767c85" />
<polygon points="468.0,496.8 560.8,487.7 560.8,488.6 468.0,497.7" fill="#5f656d" />
<polygon points="468.0,442.4 560.8,434.5 560.8,435.7 468.0,443.5" fill="#5a6068" />
<polygon points="552.8,435.2 554.8,435.0 554.8,445.0 552.8,445.2" fill="#50565e" />
<polygon points="554.8,435.0 560.8,434.5 560.8,444.5 554.8,445.0" fill="#70767e" />
<polygon points="468.0,508.4 560.8,499.0 560.8,542.5 468.0,553.0" fill="#767c85" />
<polygon points="468.0,552.1 560.8,541.7 560.8,542.5 468.0,553.0" fill="#5f656d" />
<polygon points="468.0,498.2 560.8,489.0 560.8,490.2 468.0,499.4" fill="#5a6068" />
<polygon points="552.8,489.8 554.8,489.6 554.8,499.6 552.8,499.8" fill="#50565e" />
<polygon points="554.8,489.6 560.8,489.0 560.8,499.0 554.8,499.6" fill="#70767e" />
<polygon points="466.5,328.4 468.0,328.3 468.0,553.0 466.5,553.2" fill="#5d636b" />
<polygon points="560.8,323.2 562.0,323.1 562.0,542.4 560.8,542.5" fill="#5d636b" />
</g>
<g id="dims">
<line x1="340.5" y1="305.6" x2="581.8" y2="295.1" stroke="#000" stroke-width="3.2"/>
<polygon points="326.5,306.2 340.7,310.1 340.3,301.1" fill="#000"/>
<polygon points="595.8,294.5 582.0,299.6 581.6,290.6" fill="#000"/>
<line x1="610.2" y1="297.5" x2="653.7" y2="306.9" stroke="#000" stroke-width="3.2"/>
<polygon points="597.5,294.7 609.2,301.9 611.2,293.1" fill="#000"/>
<polygon points="666.4,309.7 652.7,311.3 654.7,302.5" fill="#000"/>
<line x1="318.4" y1="330.5" x2="318.4" y2="545.6" stroke="#000" stroke-width="3.6"/>
<polygon points="318.4,316.5 313.6,330.5 323.1,330.5" fill="#000"/>
<polygon points="318.4,559.6 313.6,545.6 323.1,545.6" fill="#000"/>
<text x="430" y="296.3" font-family="Liberation Sans" font-weight="700" font-size="18.5" transform="rotate(-2.5 430 296)">1204 мм</text>
<text x="0" y="0" font-family="Liberation Sans" font-weight="700" font-size="16.5" transform="translate(606,289.6) rotate(13)">410 мм</text>
<text x="0" y="0" font-family="Liberation Sans" font-weight="700" font-size="19" transform="translate(314.6,471) rotate(-90)">940 мм</text>
</g>
<g id="tables">
<rect x="16.5" y="345.3" width="208.6" height="137.0" fill="none" stroke="#222" stroke-width="1.4"/>
<line x1="16.5" y1="359.0" x2="225.1" y2="359.0" stroke="#222" stroke-width="1.3"/>
<line x1="16.5" y1="372.7" x2="225.1" y2="372.7" stroke="#222" stroke-width="1.3"/>
<line x1="16.5" y1="386.4" x2="225.1" y2="386.4" stroke="#222" stroke-width="1.3"/>
<line x1="16.5" y1="400.1" x2="225.1" y2="400.1" stroke="#222" stroke-width="1.3"/>
<line x1="16.5" y1="413.8" x2="225.1" y2="413.8" stroke="#222" stroke-width="1.3"/>
<line x1="16.5" y1="427.5" x2="225.1" y2="427.5" stroke="#222" stroke-width="1.3"/>
<line x1="16.5" y1="441.2" x2="225.1" y2="441.2" stroke="#222" stroke-width="1.3"/>
<line x1="16.5" y1="454.9" x2="225.1" y2="454.9" stroke="#222" stroke-width="1.3"/>
<line x1="16.5" y1="468.6" x2="225.1" y2="468.6" stroke="#222" stroke-width="1.3"/>
<line x1="34.8" y1="345.3" x2="34.8" y2="482.3" stroke="#222" stroke-width="1.3"/>
<line x1="152.6" y1="345.3" x2="152.6" y2="482.3" stroke="#222" stroke-width="1.3"/>
<line x1="208.8" y1="345.3" x2="208.8" y2="482.3" stroke="#222" stroke-width="1.3"/>
<text x="25.6" y="356.3" font-family="Liberation Serif" font-size="13" text-anchor="middle">1</text>
<text x="38.5" y="356.3" font-family="Liberation Serif" font-size="13">Боковина левая</text>
<text x="181.3" y="356.7" font-family="Liberation Serif" font-size="13" text-anchor="middle">924x388</text>
<text x="216.9" y="356.3" font-family="Liberation Serif" font-size="13" text-anchor="middle">1</text>
<text x="25.6" y="370.0" font-family="Liberation Serif" font-size="13" text-anchor="middle">2</text>
<text x="38.5" y="370.0" font-family="Liberation Serif" font-size="13">Боковина правая</text>
<text x="181.3" y="370.4" font-family="Liberation Serif" font-size="13" text-anchor="middle">924x388</text>
<text x="216.9" y="370.0" font-family="Liberation Serif" font-size="13" text-anchor="middle">1</text>
<text x="25.6" y="383.7" font-family="Liberation Serif" font-size="13" text-anchor="middle">3</text>
<text x="38.5" y="383.7" font-family="Liberation Serif" font-size="13">Перегородка левая</text>
<text x="181.3" y="384.1" font-family="Liberation Serif" font-size="13" text-anchor="middle">834x388</text>
<text x="216.9" y="383.7" font-family="Liberation Serif" font-size="13" text-anchor="middle">1</text>
<text x="25.6" y="397.4" font-family="Liberation Serif" font-size="13" text-anchor="middle">4</text>
<text x="38.5" y="397.4" font-family="Liberation Serif" font-size="13">Перегородка правая</text>
<text x="181.3" y="397.8" font-family="Liberation Serif" font-size="13" text-anchor="middle">834x388</text>
<text x="216.9" y="397.4" font-family="Liberation Serif" font-size="13" text-anchor="middle">1</text>
<text x="25.6" y="411.1" font-family="Liberation Serif" font-size="13" text-anchor="middle">5</text>
<text x="38.5" y="411.1" font-family="Liberation Serif" font-size="13">Перегородка левая</text>
<text x="181.3" y="411.5" font-family="Liberation Serif" font-size="13" text-anchor="middle">834x388</text>
<text x="216.9" y="411.1" font-family="Liberation Serif" font-size="13" text-anchor="middle">1</text>
<text x="25.6" y="424.8" font-family="Liberation Serif" font-size="13" text-anchor="middle">6</text>
<text x="38.5" y="424.8" font-family="Liberation Serif" font-size="13">Перегородка правая</text>
<text x="181.3" y="425.2" font-family="Liberation Serif" font-size="13" text-anchor="middle">834x388</text>
<text x="216.9" y="424.8" font-family="Liberation Serif" font-size="13" text-anchor="middle">1</text>
<text x="25.6" y="438.5" font-family="Liberation Serif" font-size="13" text-anchor="middle">7</text>
<text x="40" y="438.5" font-family="Liberation Serif" font-size="13">Крыша комода</text>
<text x="181.3" y="438.9" font-family="Liberation Serif" font-size="13" text-anchor="middle">1204x406</text>
<text x="216.9" y="438.5" font-family="Liberation Serif" font-size="13" text-anchor="middle">1</text>
<text x="25.6" y="452.2" font-family="Liberation Serif" font-size="13" text-anchor="middle">8</text>
<text x="38.5" y="452.2" font-family="Liberation Serif" font-size="13">Дно комода</text>
<text x="181.3" y="452.6" font-family="Liberation Serif" font-size="13" text-anchor="middle">1168x388</text>
<text x="216.9" y="452.2" font-family="Liberation Serif" font-size="13" text-anchor="middle">1</text>
<text x="25.6" y="465.9" font-family="Liberation Serif" font-size="13" text-anchor="middle">9</text>
<text x="54.4" y="465.9" font-family="Liberation Serif" font-size="13">Цоколь</text>
<text x="181.3" y="466.3" font-family="Liberation Serif" font-size="13" text-anchor="middle">1168x74</text>
<text x="216.9" y="465.9" font-family="Liberation Serif" font-size="13" text-anchor="middle">1</text>
<text x="25.6" y="479.6" font-family="Liberation Serif" font-size="13" text-anchor="middle">10</text>
<text x="49.6" y="479.6" font-family="Liberation Serif" font-size="13">Планка</text>
<text x="181.3" y="480.0" font-family="Liberation Serif" font-size="13" text-anchor="middle">368x60</text>
<text x="216.9" y="479.6" font-family="Liberation Serif" font-size="13" text-anchor="middle">8</text>
<rect x="16.2" y="485.2" width="209.2" height="109.6" fill="none" stroke="#222" stroke-width="1.4"/>
<line x1="16.2" y1="498.9" x2="225.4" y2="498.9" stroke="#222" stroke-width="1.3"/>
<line x1="16.2" y1="512.6" x2="225.4" y2="512.6" stroke="#222" stroke-width="1.3"/>
<line x1="16.2" y1="526.3" x2="225.4" y2="526.3" stroke="#222" stroke-width="1.3"/>
<line x1="16.2" y1="540.0" x2="225.4" y2="540.0" stroke="#222" stroke-width="1.3"/>
<line x1="16.2" y1="553.7" x2="225.4" y2="553.7" stroke="#222" stroke-width="1.3"/>
<line x1="16.2" y1="567.4" x2="225.4" y2="567.4" stroke="#222" stroke-width="1.3"/>
<line x1="16.2" y1="581.1" x2="225.4" y2="581.1" stroke="#222" stroke-width="1.3"/>
<line x1="34.8" y1="485.2" x2="34.8" y2="594.8" stroke="#222" stroke-width="1.3"/>
<line x1="161.0" y1="485.2" x2="161.0" y2="594.8" stroke="#222" stroke-width="1.3"/>
<line x1="213.3" y1="485.2" x2="213.3" y2="594.8" stroke="#222" stroke-width="1.3"/>
<text x="25.5" y="496.2" font-family="Liberation Serif" font-size="13" text-anchor="middle">11</text>
<text x="43.3" y="496.2" font-family="Liberation Serif" font-size="13">Полка комода</text>
<text x="187.8" y="496.6" font-family="Liberation Serif" font-size="13" text-anchor="middle">376x368</text>
<text x="219.4" y="496.2" font-family="Liberation Serif" font-size="13" text-anchor="middle">2</text>
<text x="25.5" y="509.9" font-family="Liberation Serif" font-size="13" text-anchor="middle">12</text>
<text x="40.7" y="509.9" font-family="Liberation Serif" font-size="13">Боковина ящика</text>
<text x="187.8" y="510.3" font-family="Liberation Serif" font-size="13" text-anchor="middle">350x110</text>
<text x="219.4" y="509.9" font-family="Liberation Serif" font-size="13" text-anchor="middle">12</text>
<text x="25.5" y="523.6" font-family="Liberation Serif" font-size="13" text-anchor="middle">13</text>
<text x="40.7" y="523.6" font-family="Liberation Serif" font-size="13">Щит ящика передний</text>
<text x="187.8" y="524.0" font-family="Liberation Serif" font-size="13" text-anchor="middle">311x110</text>
<text x="219.4" y="523.6" font-family="Liberation Serif" font-size="13" text-anchor="middle">6</text>
<text x="25.5" y="537.3" font-family="Liberation Serif" font-size="13" text-anchor="middle">14</text>
<text x="40.7" y="537.3" font-family="Liberation Serif" font-size="13">Щит ящика задний</text>
<text x="187.8" y="537.7" font-family="Liberation Serif" font-size="13" text-anchor="middle">311x110</text>
<text x="219.4" y="537.3" font-family="Liberation Serif" font-size="13" text-anchor="middle">6</text>
<text x="25.5" y="551.0" font-family="Liberation Serif" font-size="13" text-anchor="middle">15</text>
<text x="49.6" y="551.0" font-family="Liberation Serif" font-size="13">Фасад ящика</text>
<text x="187.8" y="551.4" font-family="Liberation Serif" font-size="13" text-anchor="middle">396x170</text>
<text x="219.4" y="551.0" font-family="Liberation Serif" font-size="13" text-anchor="middle">6</text>
<text x="25.5" y="564.7" font-family="Liberation Serif" font-size="13" text-anchor="middle">16</text>
<text x="49.6" y="564.7" font-family="Liberation Serif" font-size="13">Фасад</text>
<text x="187.8" y="565.1" font-family="Liberation Serif" font-size="13" text-anchor="middle">396x590</text>
<text x="219.4" y="564.7" font-family="Liberation Serif" font-size="13" text-anchor="middle">2</text>
<text x="25.5" y="578.4" font-family="Liberation Serif" font-size="13" text-anchor="middle">17</text>
<text x="49.6" y="578.4" font-family="Liberation Serif" font-size="13">Дно ящика</text>
<text x="187.8" y="578.8" font-family="Liberation Serif" font-size="13" text-anchor="middle">340x346</text>
<text x="219.4" y="578.4" font-family="Liberation Serif" font-size="13" text-anchor="middle">6</text>
<text x="25.5" y="592.1" font-family="Liberation Serif" font-size="13" text-anchor="middle">18</text>
<text x="47.4" y="592.1" font-family="Liberation Serif" font-size="13">Стенка задняя</text>
<text x="187.8" y="592.5" font-family="Liberation Serif" font-size="13" text-anchor="middle">860x398</text>
<text x="219.4" y="592.1" font-family="Liberation Serif" font-size="13" text-anchor="middle">3</text>
</g>
<g id="hw">
<text x="164.3" y="614.6" font-family="Liberation Serif" font-size="16.5">Комплект фурнитуры для сборки комода</text>
<rect x="3.5" y="618.8" width="685.6" height="78.3" fill="none" stroke="#222" stroke-width="1.4"/>
<line x1="3.5" y1="663.0" x2="689.1" y2="663.0" stroke="#222" stroke-width="1.3"/>
<line x1="3.5" y1="682.4" x2="689.1" y2="682.4" stroke="#222" stroke-width="1.3"/>
<line x1="44.6" y1="618.8" x2="44.6" y2="697.1" stroke="#222" stroke-width="1.3"/>
<line x1="83.2" y1="618.8" x2="83.2" y2="697.1" stroke="#222" stroke-width="1.3"/>
<line x1="129.9" y1="618.8" x2="129.9" y2="697.1" stroke="#222" stroke-width="1.3"/>
<line x1="172.5" y1="618.8" x2="172.5" y2="697.1" stroke="#222" stroke-width="1.3"/>
<line x1="202.3" y1="618.8" x2="202.3" y2="697.1" stroke="#222" stroke-width="1.3"/>
<line x1="232.5" y1="618.8" x2="232.5" y2="697.1" stroke="#222" stroke-width="1.3"/>
<line x1="265.3" y1="618.8" x2="265.3" y2="697.1" stroke="#222" stroke-width="1.3"/>
<line x1="306.2" y1="618.8" x2="306.2" y2="697.1" stroke="#222" stroke-width="1.3"/>
<line x1="347.6" y1="618.8" x2="347.6" y2="697.1" stroke="#222" stroke-width="1.3"/>
<line x1="401.8" y1="618.8" x2="401.8" y2="697.1" stroke="#222" stroke-width="1.3"/>
<line x1="434.6" y1="618.8" x2="434.6" y2="697.1" stroke="#222" stroke-width="1.3"/>
<line x1="500.1" y1="618.8" x2="500.1" y2="697.1" stroke="#222" stroke-width="1.3"/>
<line x1="541.9" y1="618.8" x2="541.9" y2="697.1" stroke="#222" stroke-width="1.3"/>
<line x1="601.2" y1="618.8" x2="601.2" y2="697.1" stroke="#222" stroke-width="1.3"/>
<text x="7.1" y="675.9" font-family="Liberation Serif" font-size="9.8" textLength="35.8" lengthAdjust="spacingAndGlyphs" style="stroke-width:0.05px">Евровинт</text>
<text x="24.1" y="694.5" font-family="Liberation Serif" font-size="14" text-anchor="middle">38</text>
<text x="45.4" y="675.9" font-family="Liberation Serif" font-size="9.8" textLength="36.6" lengthAdjust="spacingAndGlyphs" style="stroke-width:0.05px">Заглушка</text>
<text x="63.9" y="694.5" font-family="Liberation Serif" font-size="14" text-anchor="middle">6</text>
<text x="87.7" y="675.9" font-family="Liberation Serif" font-size="9.8" textLength="38.3" lengthAdjust="spacingAndGlyphs" style="stroke-width:0.05px">Евроключ</text>
<text x="106.6" y="694.5" font-family="Liberation Serif" font-size="14" text-anchor="middle">1</text>
<text x="136.2" y="675.9" font-family="Liberation Serif" font-size="9.8" textLength="24" lengthAdjust="spacingAndGlyphs" style="stroke-width:0.05px">Ножка</text>
<text x="151.2" y="694.5" font-family="Liberation Serif" font-size="14" text-anchor="middle">5</text>
<text x="173.8" y="675.9" font-family="Liberation Serif" font-size="9.8" textLength="26" lengthAdjust="spacingAndGlyphs" style="stroke-width:0.05px">Гвоздь</text>
<text x="187.4" y="694.5" font-family="Liberation Serif" font-size="14" text-anchor="middle">100</text>
<text x="203.3" y="671.8" font-family="Liberation Serif" font-size="9.8" textLength="27.2" lengthAdjust="spacingAndGlyphs" style="stroke-width:0.05px">Шуруп</text>
<text x="209" y="680.6" font-family="Liberation Serif" font-size="9.8" textLength="16" lengthAdjust="spacingAndGlyphs" style="stroke-width:0.05px">4x16</text>
<text x="217.4" y="694.5" font-family="Liberation Serif" font-size="14" text-anchor="middle">64</text>
<text x="233" y="671.8" font-family="Liberation Serif" font-size="9.8" textLength="27.8" lengthAdjust="spacingAndGlyphs" style="stroke-width:0.05px">Шуруп</text>
<text x="238.6" y="680.6" font-family="Liberation Serif" font-size="9.8" textLength="17" lengthAdjust="spacingAndGlyphs" style="stroke-width:0.05px">4x30</text>
<text x="248.9" y="694.5" font-family="Liberation Serif" font-size="14" text-anchor="middle">12</text>
<text x="268.3" y="671.8" font-family="Liberation Serif" font-size="9.8" textLength="34" lengthAdjust="spacingAndGlyphs" style="stroke-width:0.05px">Ввинчив.</text>
<text x="272" y="680.6" font-family="Liberation Serif" font-size="9.8" textLength="28" lengthAdjust="spacingAndGlyphs" style="stroke-width:0.05px">дюбель</text>
<text x="285.8" y="694.5" font-family="Liberation Serif" font-size="14" text-anchor="middle">12</text>
<text x="307.4" y="671.8" font-family="Liberation Serif" font-size="9.8" textLength="37.6" lengthAdjust="spacingAndGlyphs" style="stroke-width:0.05px">Эксцентр.</text>
<text x="312.5" y="680.6" font-family="Liberation Serif" font-size="9.8" textLength="26.5" lengthAdjust="spacingAndGlyphs" style="stroke-width:0.05px">стяжка</text>
<text x="326.9" y="694.5" font-family="Liberation Serif" font-size="14" text-anchor="middle">12</text>
<text x="348.8" y="671.8" font-family="Liberation Serif" font-size="9.8" textLength="51.7" lengthAdjust="spacingAndGlyphs" style="stroke-width:0.05px">Заглушка для</text>
<text x="352" y="680.6" font-family="Liberation Serif" font-size="9.8" textLength="45.4" lengthAdjust="spacingAndGlyphs" style="stroke-width:0.05px">эксцентрика</text>
<text x="374.7" y="694.5" font-family="Liberation Serif" font-size="14" text-anchor="middle">12</text>
<text x="405" y="675.9" font-family="Liberation Serif" font-size="9.8" textLength="25.7" lengthAdjust="spacingAndGlyphs" style="stroke-width:0.05px">Шкант</text>
<text x="418.2" y="694.5" font-family="Liberation Serif" font-size="14" text-anchor="middle">32</text>
<text x="435.3" y="671.8" font-family="Liberation Serif" font-size="9.8" textLength="63" lengthAdjust="spacingAndGlyphs" style="stroke-width:0.05px">Ответная планка</text>
<text x="444.1" y="680.6" font-family="Liberation Serif" font-size="9.8" textLength="37" lengthAdjust="spacingAndGlyphs" style="stroke-width:0.05px">для петли</text>
<text x="467.4" y="694.5" font-family="Liberation Serif" font-size="14" text-anchor="middle">4</text>
<text x="511.2" y="671.8" font-family="Liberation Serif" font-size="9.8" textLength="24.6" lengthAdjust="spacingAndGlyphs" style="stroke-width:0.05px">Петля</text>
<text x="501.4" y="680.6" font-family="Liberation Serif" font-size="9.8" textLength="40" lengthAdjust="spacingAndGlyphs" style="stroke-width:0.05px">накладная</text>
<text x="521.0" y="694.5" font-family="Liberation Serif" font-size="14" text-anchor="middle">4</text>
<text x="543.3" y="675.9" font-family="Liberation Serif" font-size="9.8" textLength="57.3" lengthAdjust="spacingAndGlyphs" style="stroke-width:0.05px">Полкодержатель</text>
<text x="571.5" y="694.5" font-family="Liberation Serif" font-size="14" text-anchor="middle">8</text>
<text x="603.4" y="671.8" font-family="Liberation Serif" font-size="9.8" textLength="81" lengthAdjust="spacingAndGlyphs" style="stroke-width:0.05px">Комплект роликовых</text>
<text x="604.8" y="680.6" font-family="Liberation Serif" font-size="9.8" textLength="83.7" lengthAdjust="spacingAndGlyphs" style="stroke-width:0.05px">направляющих L=350мм</text>
<text x="645.2" y="694.5" font-family="Liberation Serif" font-size="14" text-anchor="middle">6</text>
</g>
<g id="icons">
<polygon points="12.2,646.0 18.5,642.6 16.3,638.6 10.0,642.0" fill="#fff" stroke="#222" stroke-width="0.8"/>
<polygon points="18.4,642.8 41.5,631.7 39.5,627.3 16.4,638.4" fill="#333" stroke="#222" stroke-width="0.8"/>
<path d="M19,641 l2,-5 l1.5,4 l2,-5 l1.5,4 l2,-5 l1.5,4 l2,-5 l1.5,4 l2,-5 l1.5,4 l2,-5 l1.5,4 l2,-5" fill="none" stroke="#ddd" stroke-width="0.6"/>
<ellipse cx="8.8" cy="645.7" rx="2.4" ry="3.6" transform="rotate(-25 8.8 645.7)" fill="#fff" stroke="#222" stroke-width="0.9"/>
<circle cx="8.8" cy="645.7" r="0.9" fill="#444"/>
<ellipse cx="62.9" cy="638.7" rx="4.4" ry="6.6" transform="rotate(-15 62.9 638.7)" fill="#fff" stroke="#333" stroke-width="0.9"/>
<path d="M65.5,635.5 L68.8,635.8 L69.2,638.2 L66.5,638.8" fill="#fff" stroke="#333" stroke-width="0.9"/>
<path d="M108.3,623.2 L86.9,634.9 L123.9,655" fill="none" stroke="#2a2a2a" stroke-width="3.6" stroke-linejoin="miter"/>
<path d="M108.3,623.2 L86.9,634.9 L123.9,655" fill="none" stroke="#bbb" stroke-width="1.0" stroke-linejoin="miter"/>
<path d="M147,629 C152,624 162,628 166.5,639.5" fill="none" stroke="#333" stroke-width="1.6"/>
<polygon points="132.9,634.9 145.2,627.7 167.9,640.7 167.9,643.3 155.6,651.1 132.9,637.5" fill="#fff" stroke="#222" stroke-width="0.9"/>
<polyline points="132.9,634.9 155.6,648.5 167.9,640.7" fill="none" stroke="#222" stroke-width="0.9"/>
<circle cx="142" cy="632.9" r="0.9" fill="#333"/><circle cx="159.5" cy="642" r="0.9" fill="#333"/>
<line x1="185" y1="632" x2="185" y2="646.7" stroke="#333" stroke-width="1.4"/>
<line x1="183.5" y1="631.8" x2="186.5" y2="631.8" stroke="#333" stroke-width="1.2"/>
<polygon points="211.4,645.3 223.3,637.2 224.7,635.6 222.6,635.8 209.2,641.3" fill="#2a2a2a" stroke="#2a2a2a" stroke-width="0.6"/>
<path d="M213.3,643.5 l-0.6,-2.8 M214.7,642.8 l-0.6,-2.8 M216.1,642.0 l-0.6,-2.8 M217.5,641.3 l-0.6,-2.8 M218.9,640.5 l-0.6,-2.8 M220.3,639.8 l-0.6,-2.8 M221.7,639.0 l-0.6,-2.8" stroke="#999" stroke-width="0.4"/>
<circle cx="210.3" cy="643.3" r="2.8" fill="#fff" stroke="#222" stroke-width="1"/>
<path d="M208.8,643.3 h3 M210.3,641.8 v3" stroke="#222" stroke-width="0.7"/>
<polygon points="239.4,649.9 261.0,636.7 262.4,635.1 260.3,635.4 237.4,646.3" fill="#2a2a2a" stroke="#2a2a2a" stroke-width="0.6"/>
<path d="M241.3,648.1 l-0.4,-2.5 M242.7,647.4 l-0.4,-2.5 M244.1,646.6 l-0.4,-2.5 M245.5,645.9 l-0.4,-2.5 M246.9,645.1 l-0.4,-2.5 M248.3,644.3 l-0.4,-2.5 M249.7,643.6 l-0.4,-2.5 M251.1,642.8 l-0.4,-2.5 M252.5,642.0 l-0.4,-2.5 M253.9,641.3 l-0.4,-2.5 M255.3,640.5 l-0.4,-2.5 M256.7,639.8 l-0.4,-2.5 M258.1,639.0 l-0.4,-2.5 M259.6,638.2 l-0.4,-2.5" stroke="#999" stroke-width="0.4"/>
<circle cx="238.4" cy="648.1" r="2.7" fill="#fff" stroke="#222" stroke-width="1"/>
<path d="M237,648.1 h3 M238.4,646.7 v3" stroke="#222" stroke-width="0.7"/>
<polygon points="298.5,634.9 305.2,631.8 303.2,627.4 296.5,630.5" fill="#333" stroke="#222" stroke-width="0.8"/>
<polygon points="276.7,646.8 298.8,635.2 296.2,630.2 274.1,641.8" fill="#fff" stroke="#222" stroke-width="0.8"/>
<polygon points="273.3,647.3 276.4,645.6 274.8,642.8 271.7,644.5" fill="#fff" stroke="#222" stroke-width="0.8"/>
<circle cx="270" cy="647.4" r="2.5" fill="#333" stroke="#222" stroke-width="0.6"/>
<path d="M319,634 L319,645 C320,649 331,649 332,645 L332,634" fill="#888" stroke="#222" stroke-width="0.9"/>
<path d="M320,640 h11 M320,644 h11" stroke="#eee" stroke-width="0.8"/>
<ellipse cx="325.5" cy="633.9" rx="5.7" ry="3.8" fill="#fff" stroke="#222" stroke-width="1"/>
<path d="M323,632.5 l5,2.8 M328,632.5 l-5,2.8" stroke="#222" stroke-width="1.1"/>
<ellipse cx="376.7" cy="636.8" rx="10.4" ry="6" fill="none" stroke="#333" stroke-width="1.3"/>
<ellipse cx="376.7" cy="636.2" rx="10" ry="5.4" fill="#fff" stroke="#444" stroke-width="0.7"/>
<polygon points="414.7,639.6 428.7,632.4 426.9,628.8 412.9,636.0" fill="#fff" stroke="#222" stroke-width="0.8"/>
<line x1="414.5" y1="637" x2="427" y2="630.5" stroke="#444" stroke-width="0.6"/>
<ellipse cx="413.6" cy="637.9" rx="1.5" ry="2" transform="rotate(-27 413.6 637.9)" fill="#fff" stroke="#222" stroke-width="0.8"/>
<polygon points="459.8,620.9 468.1,622.8 468.1,661.6 459.8,659.5" fill="#fff" stroke="#222" stroke-width="0.9"/>
<rect x="462.8" y="626.5" width="1.4" height="5.5" rx="0.7" fill="#fff" stroke="#222" stroke-width="0.7"/>
<rect x="462.8" y="650.5" width="1.4" height="5.5" rx="0.7" fill="#fff" stroke="#222" stroke-width="0.7"/>
<polygon points="452.2,633.8 476,637.8 476,640 472.8,648.9 452.2,645" fill="#fff" stroke="#222" stroke-width="0.9"/>
<line x1="452.2" y1="637" x2="474" y2="641" stroke="#222" stroke-width="0.7"/>
<circle cx="453.8" cy="642.3" r="2" fill="#333"/><circle cx="463.6" cy="642.5" r="0.9" fill="#333"/>
<path d="M472.8,648.9 l1,2.5 l3,0.3" fill="none" stroke="#222" stroke-width="0.8"/>
<polygon points="527.5,623.5 534.6,625.9 534.6,661.6 527.5,659.2" fill="#fff" stroke="#222" stroke-width="0.9"/>
<circle cx="530.5" cy="627.5" r="0.8" fill="#333"/><circle cx="530.5" cy="656" r="0.8" fill="#333"/>
<polygon points="503.7,628.3 506,627.4 527.5,632 527.5,638.5 506,636.2 503.7,636.2 503.7,632.5 506,632 506,630.5 503.7,630.5" fill="#fff" stroke="#222" stroke-width="0.9"/>
<circle cx="511.7" cy="634.8" r="1.8" fill="#222"/>
<polygon points="520.4,635.4 529.1,637.3 529.1,641.8 520.4,640.5" fill="#fff" stroke="#222" stroke-width="0.9"/>
<polygon points="533.9,635.4 539.4,637 539.4,648.1 533.9,646.5" fill="#fff" stroke="#222" stroke-width="0.9"/>
<path d="M525,641.5 C525,645 528,647 531,647" fill="none" stroke="#222" stroke-width="0.8"/>
<rect x="555.5" y="636.9" width="10.5" height="6.2" fill="#fff" stroke="#222" stroke-width="0.9" transform="rotate(-8 560 640)"/>
<ellipse cx="556" cy="640.6" rx="1.3" ry="3.1" transform="rotate(-8 556 640.6)" fill="#fff" stroke="#222" stroke-width="0.8"/>
<rect x="566" y="634.4" width="3.2" height="8.4" fill="#fff" stroke="#222" stroke-width="0.9" transform="rotate(-8 567 638)"/>
<rect x="569" y="634.7" width="9.8" height="6.4" rx="1.5" fill="#fff" stroke="#222" stroke-width="0.9" transform="rotate(-3 574 638)"/>
<polygon points="604.8,620.2 669.7,638.5 673,637.5 676.2,640 676.2,645 667.5,646.1 604.8,626.6" fill="#fff" stroke="#222" stroke-width="0.9"/>
<line x1="604.8" y1="620.2" x2="669.7" y2="638.5" stroke="#222" stroke-width="1.5"/>
<line x1="606" y1="624" x2="668" y2="642" stroke="#222" stroke-width="0.7"/>
<rect x="610.0" y="623.4" width="1.6" height="1.2" fill="#333"/>
<rect x="615.5" y="625.1" width="1.6" height="1.2" fill="#333"/>
<rect x="618.6" y="626.0" width="1.6" height="1.2" fill="#333"/>
<rect x="623.6" y="627.4" width="1.6" height="1.2" fill="#333"/>
<rect x="643.4" y="633.2" width="1.6" height="1.2" fill="#333"/>
<path d="M671,641 l3,-1 l1.5,3 l-2,2 z" fill="#333"/>
<polygon points="604.8,633.1 676.2,654.7 674,662.3 602.7,637.5" fill="#fff" stroke="#222" stroke-width="0.9"/>
<line x1="604.8" y1="633.1" x2="676.2" y2="654.7" stroke="#222" stroke-width="1.5"/>
<polygon points="606,637 673,658.5 673,660.8 606,639" fill="#aaa" stroke="#333" stroke-width="0.6"/>
<line x1="604.8" y1="633.1" x2="604.8" y2="637" stroke="#222" stroke-width="0.8"/>
</g>
</svg>
</body></html>
